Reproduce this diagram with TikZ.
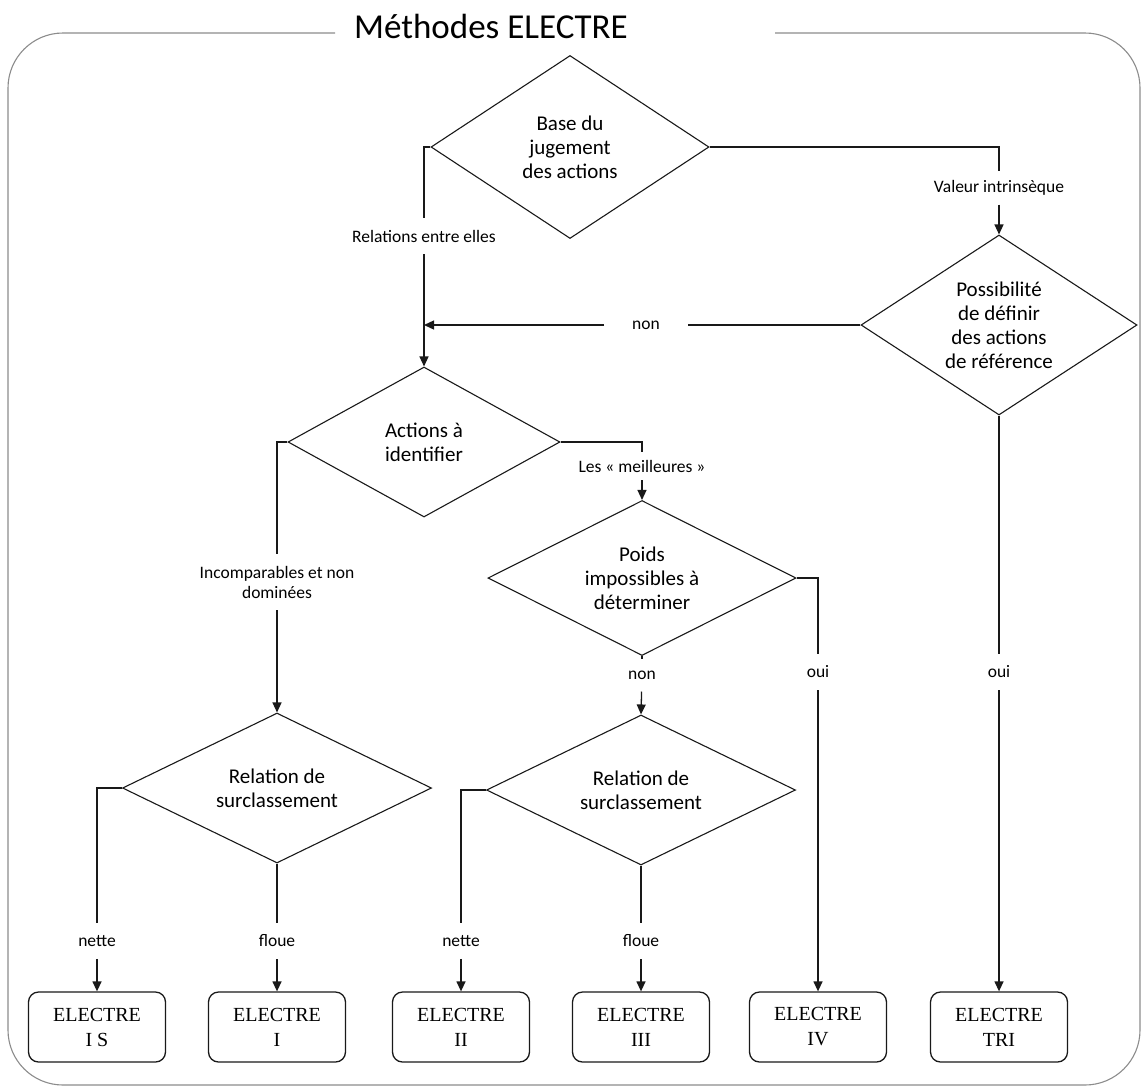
\documentclass[tikz,border=0pt]{standalone}
\usepackage{fontspec}
\setmainfont{Carlito}
\newfontfamily\boxfont{Liberation Serif}
\usetikzlibrary{shapes.geometric,arrows.meta}

\begin{document}
\begin{tikzpicture}[x=1pt,y=-1pt]
  % Colors
  \colorlet{framecolor}{black!45}
  \colorlet{linecolor}{black!90}

  % Styles
  \tikzstyle{decision}=[diamond,aspect=1.6,draw=linecolor,line width=1.1pt,inner sep=0pt,
    align=center,font=\fontsize{21}{24}\selectfont]
  \tikzstyle{method}=[rectangle,rounded corners=10pt,draw=linecolor,line width=1.3pt,
    minimum width=137pt,minimum height=70pt,align=center,
    font=\boxfont\fontsize{20}{25}\selectfont]
  \tikzstyle{answer}=[inner xsep=4pt,inner ysep=12pt,align=center,
    font=\fontsize{17.5}{20}\selectfont]
  \tikzstyle{link}=[draw=linecolor,line width=1.3pt]
  \tikzstyle{arrow}=[link,-{Triangle[length=10pt,width=9pt]}]

  \useasboundingbox (0,0) rectangle (1145,1090);

  % Frame and title
  \draw[framecolor,line width=1.1pt,rounded corners=55pt]
    (335,33) -- (8,33) -- (8,1085) -- (1140,1085) -- (1140,33) -- (775,33);
  \node[anchor=base,font=\fontsize{35}{40}\selectfont] (title) at (491,38) {Méthodes ELECTRE};

  % Decisions
  \node[decision,minimum width=278pt,minimum height=183pt] (base) at (570,147)
    {Base du\\jugement\\des actions};
  \node[decision,minimum width=276pt,minimum height=180pt] (poss) at (999,325)
    {Possibilité\\de définir\\des actions\\de référence};
  \node[decision,minimum width=272pt,minimum height=150pt] (actions) at (424,442)
    {Actions à\\identifier};
  \node[decision,minimum width=308pt,minimum height=155pt] (poids) at (642,578)
    {Poids\\impossibles à\\déterminer};
  \node[decision,minimum width=309pt,minimum height=150pt] (surcA) at (277,788)
    {Relation de\\surclassement};
  \node[decision,minimum width=309pt,minimum height=150pt] (surcB) at (641,790)
    {Relation de\\surclassement};

  % Methods
  \node[method] (eIS)  at (97,1027)  {ELECTRE\\I S};
  \node[method] (eI)   at (277,1027) {ELECTRE\\I};
  \node[method] (eII)  at (461,1027) {ELECTRE\\II};
  \node[method] (eIII) at (641,1027) {ELECTRE\\III};
  \node[method] (eIV)  at (818,1027) {ELECTRE\\IV};
  \node[method] (eTRI) at (999,1027) {ELECTRE\\TRI};

  % Answers
  \node[answer] (relations) at (424,236) {Relations entre elles};
  \node[answer,inner ysep=9pt] (valeur) at (999,188) {Valeur intrinsèque};
  \node[answer,inner xsep=28pt] (nonref) at (646,325) {non};
  \node[answer] (incomp) at (277,582) {Incomparables et non\\dominées};
  \node[answer,inner ysep=8pt] (meilleures) at (642,466) {Les «~meilleures~»};
  \node[answer] (nonpoids) at (642,675) {non};
  \node[answer] (ouipoids) at (818,672) {oui};
  \node[answer] (ouiref) at (999,672) {oui};
  \node[answer] (netteA) at (97,941) {nette};
  \node[answer] (floueA) at (277,941) {floue};
  \node[answer] (netteB) at (461,941) {nette};
  \node[answer] (floueB) at (641,941) {floue};
  \coordinate (join) at (424,325);

  % Connectors
  \draw[link] (base.west) -| (relations);
  \draw[arrow] (relations) -- (actions.north);
  \draw[link] (base.east) -| (valeur);
  \draw[arrow] (valeur) -- (poss.north);
  \draw[link] (poss.west) -- (nonref);
  \draw[arrow] (nonref) -- (join);
  \draw[link] (poss.south) -- (ouiref);
  \draw[arrow] (ouiref) -- (eTRI.north);

  \draw[link] (actions.west) -| (incomp);
  \draw[arrow] (incomp) -- (surcA.north);
  \draw[link] (actions.east) -| (meilleures);
  \draw[arrow] (meilleures) -- (poids.north);

  \draw[link] (poids.east) -| (ouipoids);
  \draw[arrow] (ouipoids) -- (eIV.north);
  \draw[link] (poids.south) -- (nonpoids);
  \draw[arrow] (nonpoids) -- (surcB.north);

  \draw[link] (surcA.west) -| (netteA);
  \draw[arrow] (netteA) -- (eIS.north);
  \draw[link] (surcA.south) -- (floueA);
  \draw[arrow] (floueA) -- (eI.north);
  \draw[link] (surcB.west) -| (netteB);
  \draw[arrow] (netteB) -- (eII.north);
  \draw[link] (surcB.south) -- (floueB);
  \draw[arrow] (floueB) -- (eIII.north);
\end{tikzpicture}
\end{document}
